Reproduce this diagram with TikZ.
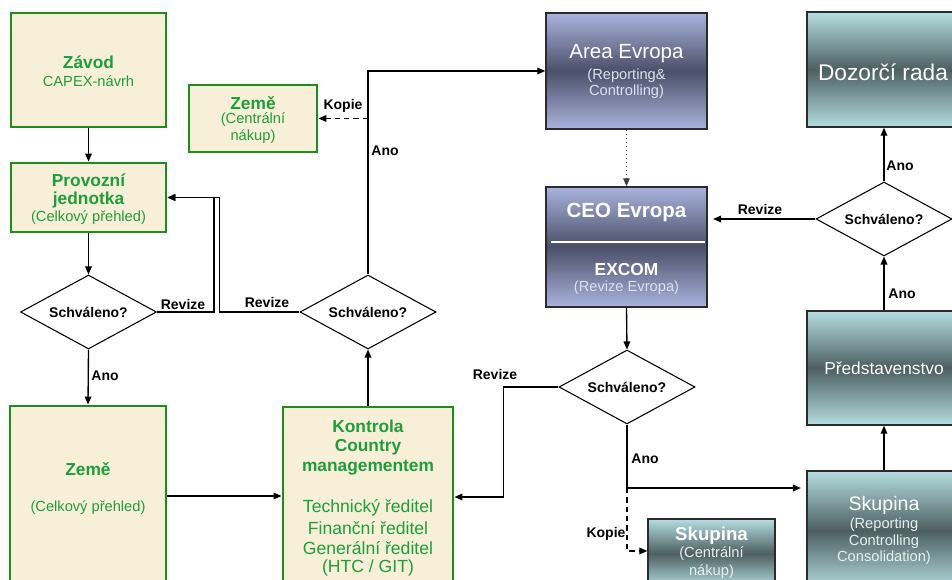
\documentclass[tikz,border=0pt]{standalone}
\usepackage{fontspec}
\setmainfont{Liberation Sans}
\usetikzlibrary{arrows.meta,shapes.geometric,fit}
\definecolor{gtxt}{HTML}{1E9E3A}
\definecolor{gbord}{HTML}{1E8C1E}
\definecolor{beige}{HTML}{F8EFD8}
\definecolor{bluel}{HTML}{A9B3DC}
\definecolor{blued}{HTML}{4B5069}
\definecolor{teall}{HTML}{B5DEE0}
\definecolor{teald}{HTML}{4D5F62}
\definecolor{boxbord}{HTML}{2B2B2B}
\definecolor{bsub}{HTML}{DCE0F0}
\definecolor{tsub}{HTML}{E6F0F0}
\tikzset{
 gbox/.style={draw=gbord, line width=2.2pt, fill=beige, inner sep=0pt},
 bbox/.style={draw=boxbord, line width=1.1pt, top color=bluel, bottom color=bluel, middle color=blued, inner sep=0pt},
 tbox/.style={draw=boxbord, line width=1.1pt, top color=teall, bottom color=teall, middle color=teald, inner sep=0pt},
 dia/.style={diamond, aspect=1.84, draw, line width=0.8pt, fill=white, inner sep=0pt, minimum width=102pt, minimum height=55.5pt, font=\bfseries\fontsize{10.5}{12}\selectfont},
 conn/.style={draw, line width=1pt, -{Triangle[length=6pt,width=5pt]}},
 kop/.style={conn, dash pattern=on 4pt off 3pt},
 lbl/.style={font=\bfseries\fontsize{10.5}{12}\selectfont, inner sep=0pt},
 gt/.style={text=gtxt, font=\bfseries\fontsize{13}{15}\selectfont, inner sep=0pt},
 gs/.style={text=gtxt, font=\fontsize{11}{13}\selectfont, inner sep=0pt},
 gm/.style={text=gtxt, font=\fontsize{13.2}{15}\selectfont, inner sep=0pt},
 wt/.style={text=white, inner sep=0pt},
}
\begin{document}
\begin{tikzpicture}[x=0.75pt,y=-0.75pt]
\useasboundingbox (0,0) rectangle (952,580);
\clip (0,0) rectangle (952,580);

% green boxes
\node[gbox, fit={(11,13) (166,127)}] (zavod) {};
\node[gt] (zavodA) at (88.5,62) {Závod};
\node[gs] (zavodB) at (88.5,81) {CAPEX-návrh};

\node[gbox, fit={(11,163) (166,232)}] (prov) {};
\node[gt] (provA) at (88.5,180) {Provozní};
\node[gt] (provB) at (88.5,200) {jednotka};
\node[gs] (provC) at (88.5,218) {(Celkový přehled)};

\node[gbox, fit={(189,85) (317,152)}] (zemeC) {};
\node[gt] (zemeCA) at (253,103) {Země};
\node[gs] (zemeCB) at (253,120) {(Centrální};
\node[gs] (zemeCC) at (253,137) {nákup)};

\node[gbox, fit={(10,406) (166,610)}] (zemeB) {};
\node[gt] (zemeBA) at (88,469) {Země};
\node[gs] (zemeBB) at (88,508) {(Celkový přehled)};

\node[gbox, fit={(283,407) (453,610)}] (kontrola) {};
\node[gt] (k1) at (368,426) {Kontrola};
\node[gt] (k2) at (368,447) {Country};
\node[gt] (k3) at (368,468) {managementem};
\node[gm] (k4) at (368,508) {Technický ředitel};
\node[gm] (k5) at (368,528) {Finanční ředitel};
\node[gm] (k6) at (368,548) {Generální ředitel};
\node[gm] (k7) at (368,568) {(HTC / GIT)};

% blue boxes
\node[bbox, fit={(546,13) (707,129)}] (area) {};
\node[wt, font=\fontsize{15.4}{18}\selectfont] (areaA) at (626.5,54) {Area Evropa};
\node[text=bsub, inner sep=0pt, font=\fontsize{11}{13}\selectfont] (areaB) at (626.5,76) {(Reporting\&};
\node[text=bsub, inner sep=0pt, font=\fontsize{11}{13}\selectfont] (areaC) at (626.5,92) {Controlling)};

\node[bbox, fit={(546,187) (707,307)}] (ceo) {};
\node[wt, font=\bfseries\fontsize{15.4}{18}\selectfont] (ceoA) at (626.5,212) {CEO Evropa};
\draw[white, line width=2.2pt] ([xshift=4.5pt]ceo.west|-0,242) -- ([xshift=-2.25pt]ceo.east|-0,242);
\node[wt, font=\bfseries\fontsize{13}{15}\selectfont] (ceoB) at (626.5,270) {EXCOM};
\node[text=bsub, inner sep=0pt, font=\fontsize{11}{13}\selectfont] (ceoC) at (626.5,288) {(Revize Evropa)};

% teal boxes
\node[tbox, fit={(807,12) (961,127)}] (dozor) {};
\node[wt, font=\fontsize{17}{20}\selectfont] (dozorA) at (883,72) {Dozorčí rada};

\node[tbox, fit={(807,311) (961,425)}] (pred) {};
\node[wt, font=\fontsize{13}{15}\selectfont] (predA) at (884,368) {Představenstvo};

\node[tbox, fit={(807,471) (961,590)}] (skupB) {};
\node[wt, font=\fontsize{14.7}{17}\selectfont] (skupBA) at (884,505) {Skupina};
\node[text=tsub, inner sep=0pt, font=\fontsize{11}{13}\selectfont] (skupBB) at (884,525) {(Reporting};
\node[text=tsub, inner sep=0pt, font=\fontsize{11}{13}\selectfont] (skupBC) at (884,542) {Controlling};
\node[text=tsub, inner sep=0pt, font=\fontsize{11}{13}\selectfont] (skupBD) at (884,558) {Consolidation)};

\node[tbox, fit={(648,519) (775,588)}] (skupC) {};
\node[wt, font=\bfseries\fontsize{14}{17}\selectfont] (skupCA) at (711.5,536) {Skupina};
\node[text=tsub, inner sep=0pt, font=\fontsize{11}{13}\selectfont] (skupCB) at (711.5,554) {(Centrální};
\node[text=tsub, inner sep=0pt, font=\fontsize{11}{13}\selectfont] (skupCC) at (711.5,572) {nákup)};

% diamonds
\node[dia] (d1) at (88.5,312) {Schváleno?};
\node[dia] (d2) at (368,312) {Schváleno?};
\node[dia] (d3) at (627,387) {Schváleno?};
\node[dia] (d4) at (884,219) {Schváleno?};

% connectors
\draw[conn] (zavod.south) -- (prov.north);
\draw[conn] (prov.south) -- (d1.north);
\draw[conn] (d1.south) -- (zemeB.north);
\draw[conn] (d1.east) -- ++(57,0) |- (prov.east);
\draw[conn] (d2.west) -- ++(-80,0) |- (prov.east);
\draw[conn] (kontrola.north) -- (d2.south);
\draw[conn] (d2.north) |- (area.west);
\coordinate (kp1) at (368,118.5);
\draw[kop] (kp1) -- (zemeC.east);
\draw[conn] (zemeB.east|-0,496) -- (kontrola.west|-0,496);
\draw[conn, draw=black!75, dotted, line width=0.8pt] (area.south) -- (ceo.north);
\draw[conn] (ceo.south) -- (d3.north);
\draw[conn] (d3.west) -- ++(-55,0) |- (kontrola.east|-0,497);
\coordinate (jn) at (627,488);
\draw[conn] (d3.south) -- (jn) -- ([xshift=-4pt]skupB.west|-jn);
\draw[kop] (jn) |- (skupC.west|-0,551);
\draw[conn] (skupB.north) -- (pred.south);
\draw[conn] (pred.north) -- (d4.south);
\draw[conn] (d4.north) -- (dozor.south);
\draw[conn] (d4.west) -- ([xshift=4pt]ceo.east|-d4.west);

% labels
\node[lbl] (l1) at (343,106) {Kopie};
\node[lbl] (l2) at (385,151) {Ano};
\node[lbl] (l3) at (183,304) {Revize};
\node[lbl] (l4) at (267,302) {Revize};
\node[lbl] (l5) at (105,376) {Ano};
\node[lbl] (l6) at (495,374) {Revize};
\node[lbl] (l7) at (645,459) {Ano};
\node[lbl] (l8) at (606,534) {Kopie};
\node[lbl] (l9) at (760,209) {Revize};
\node[lbl] (l10) at (900,166) {Ano};
\node[lbl] (l11) at (902,294) {Ano};
\end{tikzpicture}
\end{document}
